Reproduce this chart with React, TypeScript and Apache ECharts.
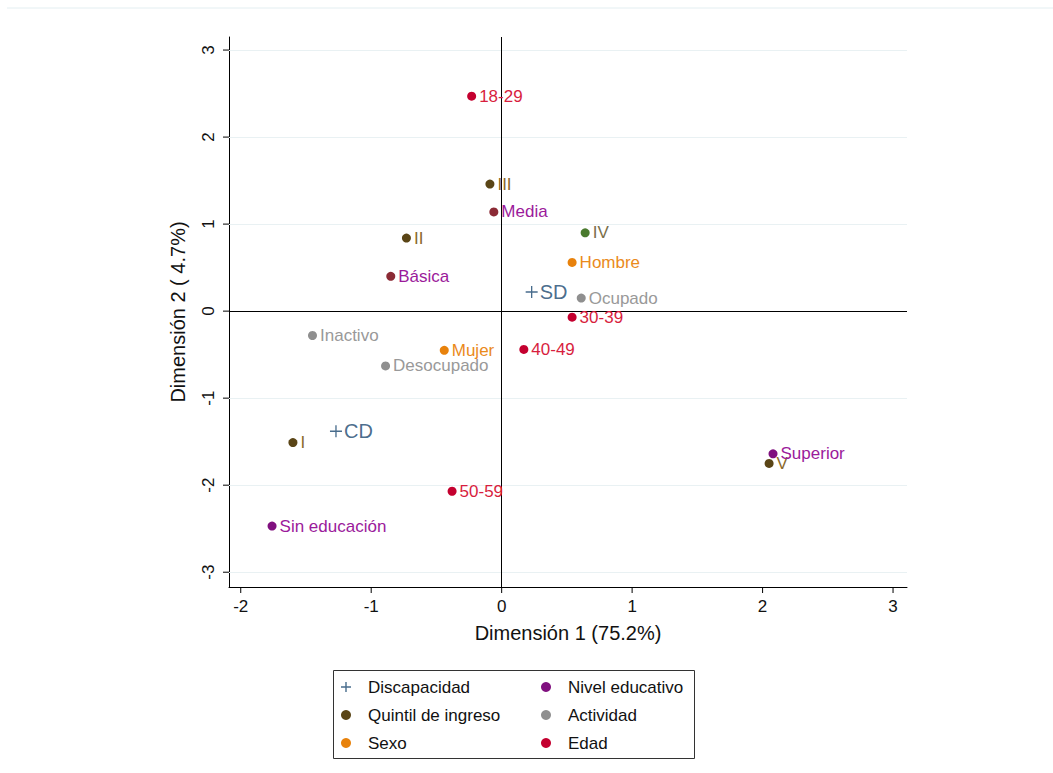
import React, { useEffect, useRef } from "react";
import * as echarts from "echarts";

const discNames = ["SD", "CD"];
const discX = [0.23, -1.27];
const discY = [0.22, -1.38];

const quintNames = ["I", "II", "III", "IV", "V"];
const quintX = [-1.6, -0.73, -0.09, 0.64, 2.05];
const quintY = [-1.51, 0.84, 1.46, 0.9, -1.75];

const sexoNames = ["Hombre", "Mujer"];
const sexoX = [0.54, -0.44];
const sexoY = [0.56, -0.45];

const eduNames = ["Sin educación", "Básica", "Media", "Superior"];
const eduX = [-1.76, -0.85, -0.06, 2.08];
const eduY = [-2.47, 0.4, 1.14, -1.64];

const actNames = ["Ocupado", "Desocupado", "Inactivo"];
const actX = [0.61, -0.89, -1.45];
const actY = [0.15, -0.63, -0.28];

const edadNames = ["18-29", "30-39", "40-49", "50-59"];
const edadX = [-0.23, 0.54, 0.17, -0.38];
const edadY = [2.47, -0.07, -0.44, -2.07];

const xTicks = [-2, -1, 0, 1, 2, 3];
const yTicks = [-3, -2, -1, 0, 1, 2, 3];

const X_MIN = -2.09;
const X_MAX = 3.107;
const Y_MIN = -3.17;
const Y_MAX = 3.15;

const PLUS =
  "path://M4.45,0h1.1v4.45h4.45v1.1h-4.45v4.45h-1.1v-4.45h-4.45v-1.1h4.45z";
const PLUS_BOLD =
  "path://M4.3,0h1.4v4.3h4.3v1.4h-4.3v4.3h-1.4v-4.3h-4.3v-1.4h4.3z";

const FONT = "Arial, 'Liberation Sans', sans-serif";

function pts(
  names: string[],
  xs: number[],
  ys: number[],
  markerColors: (string | null)[],
  labelColors: string[]
) {
  return names.map((n, i) => {
    const d: any = {
      name: n,
      value: [xs[i], ys[i]],
      label: { color: labelColors[i] },
    };
    if (markerColors[i]) d.itemStyle = { color: markerColors[i] };
    return d;
  });
}

export default function App() {
  const ref = useRef<HTMLDivElement>(null);
  useEffect(() => {
    if (!ref.current) return;
    const chart = echarts.init(ref.current, undefined, { renderer: "svg" });
    const baseLabel = {
      show: true,
      position: "right",
      distance: 3,
      formatter: "{b}",
      fontSize: 17,
      fontFamily: FONT,
    };
    const dotSeries = (name: string, color: string, data: any[]) => ({
      name,
      type: "scatter",
      symbol: "circle",
      symbolSize: 9,
      itemStyle: { color, opacity: 1 },
      label: { ...baseLabel },
      data,
      z: 5,
    });

    const legendText = {
      fontSize: 17,
      fontFamily: FONT,
      color: "#111",
      lineHeight: 20,
    };
    const legendCommon = {
      orient: "vertical",
      top: 672,
      itemGap: 8,
      itemWidth: 34,
      itemHeight: 10,
      textStyle: legendText,
      selectedMode: false,
    };

    chart.setOption({
      animation: false,
      backgroundColor: "#ffffff",
      grid: { left: 229, right: 146, top: 37, bottom: 186 },
      xAxis: {
        type: "value",
        min: X_MIN,
        max: X_MAX,
        splitLine: { show: false },
        axisLine: { onZero: false, lineStyle: { color: "#000", width: 1 } },
        axisTick: { show: false },
        axisLabel: { show: false },
        name: "Dimensión 1 (75.2%)",
        nameLocation: "middle",
        nameGap: 36,
        nameTextStyle: { fontSize: 20, fontFamily: FONT, color: "#111" },
      },
      yAxis: {
        type: "value",
        min: Y_MIN,
        max: Y_MAX,
        splitLine: { show: false },
        axisLine: { onZero: false, lineStyle: { color: "#000", width: 1 } },
        axisTick: { show: false },
        axisLabel: { show: false },
        name: "Dimensión 2 ( 4.7%)",
        nameLocation: "middle",
        nameGap: 41,
        nameRotate: 90,
        nameTextStyle: { fontSize: 20, fontFamily: FONT, color: "#111" },
      },
      legend: [
        {
          ...legendCommon,
          left: 336,
          data: [
            {
              name: "Discapacidad",
              icon: PLUS_BOLD,
              itemStyle: { color: "#1a476f" },
            },
            { name: "Quintil de ingreso", icon: "circle" },
            { name: "Sexo", icon: "circle" },
          ],
        },
        {
          ...legendCommon,
          left: 536,
          data: [
            { name: "Nivel educativo", icon: "circle" },
            { name: "Actividad", icon: "circle" },
            { name: "Edad", icon: "circle" },
          ],
        },
      ],
      series: [
        {
          name: "grid-aux",
          type: "line",
          data: [],
          silent: true,
          markLine: {
            silent: true,
            symbol: "none",
            label: { show: false },
            lineStyle: { color: "#e9f1f3", type: "solid", width: 1 },
            data: yTicks.filter((t) => t !== 0).map((t) => ({ yAxis: t })),
          },
          z: 1,
        },
        {
          name: "ref-lines",
          type: "line",
          data: [],
          silent: true,
          markLine: {
            silent: true,
            symbol: "none",
            label: { show: false },
            lineStyle: { color: "#000", type: "solid", width: 1 },
            data: [{ xAxis: 0 }, { yAxis: 0 }],
          },
          z: 2,
        },
        {
          name: "Discapacidad",
          type: "scatter",
          symbol: PLUS,
          symbolSize: 12,
          itemStyle: { color: "#1a476f" },
          label: {
            ...baseLabel,
            fontSize: 20,
            distance: 2,
            color: "#1a476f",
          },
          data: pts(discNames, discX, discY, [null, null], ["#1a476f", "#1a476f"]),
          z: 5,
        },
        dotSeries(
          "Quintil de ingreso",
          "#5a4516",
          pts(
            quintNames,
            quintX,
            quintY,
            [null, null, null, "#4a7a2e", null],
            ["#8b6a2b", "#8b6a2b", "#8b6a2b", "#7b6f4a", "#8b6a2b"]
          )
        ),
        dotSeries(
          "Sexo",
          "#e8820c",
          pts(sexoNames, sexoX, sexoY, [null, null], ["#ea8a1c", "#ea8a1c"])
        ),
        dotSeries(
          "Nivel educativo",
          "#80107f",
          pts(
            eduNames,
            eduX,
            eduY,
            [null, "#8b2a35", "#8b2a35", null],
            ["#9b1a9b", "#9b1a9b", "#9b1a9b", "#9b1a9b"]
          )
        ),
        dotSeries(
          "Actividad",
          "#8f8f8f",
          pts(actNames, actX, actY, [null, null, null], ["#999999", "#999999", "#999999"])
        ),
        dotSeries(
          "Edad",
          "#c4002f",
          pts(edadNames, edadX, edadY, [null, null, null, null], [
            "#d81e3e",
            "#d81e3e",
            "#d81e3e",
            "#d81e3e",
          ])
        ),
      ],
    });

    // ticks and tick labels placed through the library's own scale conversion
    const tickG: any[] = [];
    const yBottom = chart.convertToPixel({ yAxisIndex: 0 }, Y_MIN);
    const xLeft = chart.convertToPixel({ xAxisIndex: 0 }, X_MIN);
    xTicks.forEach((v) => {
      const p = chart.convertToPixel({ xAxisIndex: 0 }, v);
      tickG.push({
        type: "line",
        shape: { x1: p, y1: yBottom, x2: p, y2: yBottom + 6 },
        style: { stroke: "#000", lineWidth: 1 },
      });
      tickG.push({
        type: "text",
        x: p,
        y: yBottom + 11,
        style: {
          text: String(v),
          fontSize: 17,
          fontFamily: FONT,
          fill: "#111",
          align: "center",
          verticalAlign: "top",
        },
      });
    });
    yTicks.forEach((v) => {
      const p = chart.convertToPixel({ yAxisIndex: 0 }, v);
      tickG.push({
        type: "line",
        shape: { x1: xLeft - 6, y1: p, x2: xLeft, y2: p },
        style: { stroke: "#000", lineWidth: 1 },
      });
      tickG.push({
        type: "text",
        x: xLeft - 21,
        y: p,
        rotation: Math.PI / 2,
        style: {
          text: String(v),
          fontSize: 17,
          fontFamily: FONT,
          fill: "#111",
          align: "center",
          verticalAlign: "middle",
        },
      });
    });
    chart.setOption({
      graphic: [
        {
          type: "line",
          shape: { x1: 7, y1: 8, x2: 1053, y2: 8 },
          style: { stroke: "#e3eef1", lineWidth: 1 },
        },
        {
          type: "rect",
          shape: { x: 333.5, y: 670.5, width: 361, height: 88 },
          style: { fill: "none", stroke: "#333", lineWidth: 1 },
          z: 10,
        },
        ...tickG,
      ],
    });

    return () => chart.dispose();
  }, []);
  return (
    <div
      ref={ref}
      style={{ width: 1053, height: 773, position: "absolute", left: 0, top: 0 }}
    />
  );
}
